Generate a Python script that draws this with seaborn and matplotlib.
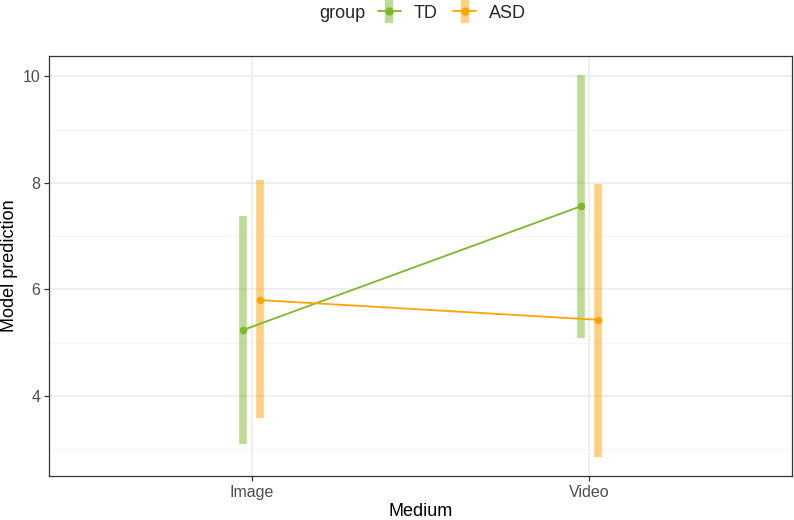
import numpy as np
import pandas as pd
import seaborn as sns
import matplotlib
matplotlib.use("Agg")
import matplotlib.pyplot as plt
from matplotlib.lines import Line2D
from matplotlib.legend_handler import HandlerTuple
from matplotlib.ticker import MultipleLocator

# values
medium = ["Image", "Video"]
groups = ["TD", "ASD"]
td_pred = [5.24, 7.56]
td_low = [3.10, 5.08]
td_high = [7.37, 10.03]
asd_pred = [5.80, 5.43]
asd_low = [3.58, 2.86]
asd_high = [8.05, 7.98]

palette = {"TD": "#7CB928", "ASD": "#FFA500"}

df = pd.DataFrame({
    "Medium": medium * 2,
    "group": ["TD"] * 2 + ["ASD"] * 2,
    "pred": td_pred + asd_pred,
    "low": td_low + asd_low,
    "high": td_high + asd_high,
})

sns.set_theme(style="white")
plt.rcParams["font.family"] = ["Liberation Sans", "DejaVu Sans"]

fig, ax = plt.subplots(figsize=(7.94, 5.2), dpi=100)
fig.subplots_adjust(left=0.062, right=0.997, top=0.893, bottom=0.085)

dodge = 0.05
sns.pointplot(data=df, x="Medium", y="pred", hue="group", order=medium,
              hue_order=groups, palette=palette, dodge=dodge, errorbar=None,
              markers="o", markersize=4.5, linewidth=1.3, ax=ax, legend=False)

# interval bars
for i, g in enumerate(groups):
    sub = df[df["group"] == g].set_index("Medium").loc[medium]
    xs = np.arange(len(medium)) + (i - 0.5) * dodge
    ax.vlines(xs, sub["low"], sub["high"], color=palette[g], alpha=0.5,
              linewidth=5.5, zorder=1)

ax.set_xlim(-0.6, 1.6)
lo = min(td_low + asd_low)
hi = max(td_high + asd_high)
pad = (hi - lo) * 0.05
ax.set_ylim(lo - pad, hi + pad)
ax.yaxis.set_major_locator(MultipleLocator(2))
ax.yaxis.set_minor_locator(MultipleLocator(1))

ax.grid(True, which="major", color="#EBEBEB", linewidth=1.1, zorder=0)
ax.grid(True, which="minor", axis="y", color="#F2F2F2", linewidth=0.6, zorder=0)
ax.set_axisbelow(True)
for s in ax.spines.values():
    s.set_color("#333333")
    s.set_linewidth(0.9)

ax.tick_params(axis="both", which="major", length=3.5, width=0.9, color="#333333",
               labelcolor="#4D4D4D", labelsize=11.5, pad=3, left=True, bottom=True)
ax.tick_params(axis="both", which="minor", length=0)
ax.set_xlabel("Medium", fontsize=13, color="black", labelpad=2)
ax.set_ylabel("Model prediction", fontsize=13, color="black")
ax.yaxis.set_label_coords(-0.042, 0.5)

handles = []
for g in groups:
    bar = Line2D([], [], marker="|", markersize=17, markeredgewidth=6,
                 color=palette[g], alpha=0.5, linestyle="none")
    pt = Line2D([], [], marker="o", markersize=5, color=palette[g], linewidth=1.3)
    handles.append((bar, pt))
fig.text(0.431, 0.975, "group", fontsize=13, ha="center", va="center")
fig.legend(handles, groups, loc="center left", bbox_to_anchor=(0.476, 0.975),
           ncol=2, frameon=False, fontsize=13, handlelength=1.25,
           handletextpad=0.7, columnspacing=0.9, borderpad=0, borderaxespad=0,
           handler_map={tuple: HandlerTuple(ndivide=1)})

fig.savefig("out.png", dpi=100)
